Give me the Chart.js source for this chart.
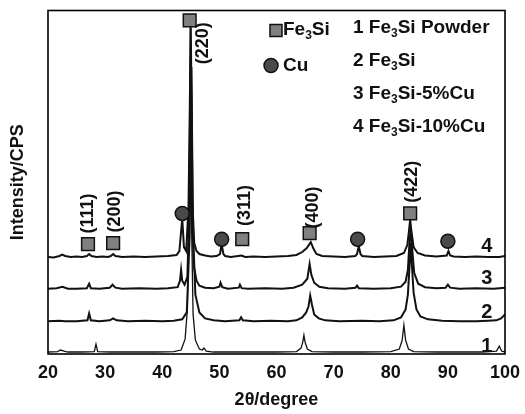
<!DOCTYPE html>
<html>
<head>
<meta charset="utf-8">
<script src="https://cdn.jsdelivr.net/npm/chart.js@4.4.1/dist/chart.umd.min.js"></script>
<style>
  html, body { margin: 0; padding: 0; background: #fff; }
  #wrap { width: 525px; height: 414px; }
</style>
</head>
<body>
<div id="wrap"><canvas id="xrdChart"></canvas></div>
<script>
// 2θ (degree) and stacked intensity for each pattern (offset already included)
const t1Angle = [20, 21.7, 22.2, 22.8, 23.5, 26, 28.1, 28.4, 28.7, 31, 35, 39, 42, 43.3, 44.0, 44.4, 44.7, 44.9, 45.1, 45.4, 45.8, 46.5, 47.0, 47.3, 47.7, 49, 55, 60, 63.5, 64.3, 64.6, 64.8, 65.0, 65.4, 66.2, 70, 75, 80, 81.5, 82.0, 82.3, 82.6, 83.1, 84, 88, 93, 96, 98.5, 99.0, 99.4, 100];
const t1Int   = [2, 2.5, 4, 3, 2, 2, 2.5, 10, 2.5, 2, 2, 2, 2.5, 4, 15, 45, 140, 332, 140, 40, 14, 5, 4, 6, 3, 2, 2, 2, 2.5, 6, 12, 19, 12, 5, 2.5, 2, 2, 2.5, 5, 14, 29, 14, 5, 2.5, 2, 2, 2, 3, 8, 3, 2];

const t2Angle = [20, 22, 23, 25, 26.9, 27.2, 27.5, 29, 30.8, 31.4, 32, 34, 37, 40, 42, 43.5, 44.3, 44.8, 45.1, 45.4, 45.8, 46.5, 47.5, 49, 51, 53.5, 53.8, 54.1, 56, 59, 62, 63.5, 64.5, 65.2, 65.6, 65.9, 66.2, 66.6, 67.4, 68.5, 71, 75, 78, 80.5, 81.8, 82.6, 83.0, 83.3, 83.5, 83.7, 84.0, 84.5, 85.2, 86.5, 89, 92, 95, 97, 98.5, 99.3, 100];
const t2Int   = [33, 33.5, 33, 33, 34, 41, 34, 33, 34, 36, 34, 33, 33.5, 33, 33.5, 35, 42, 120, 290, 120, 60, 42, 36, 34, 33, 34, 37, 34, 33, 33.5, 33, 34, 37, 42, 48, 59, 50, 40, 36, 34, 33, 33.5, 33, 34, 37, 45, 60, 90, 112, 90, 62, 45, 38, 35, 33.5, 33, 33, 33.5, 34, 36, 40];

const t3Angle = [20, 21.5, 22.5, 23.5, 25, 26.8, 27.2, 27.5, 29, 30.8, 31.3, 31.8, 33, 36, 39, 41, 42.7, 43.1, 43.3, 43.5, 43.9, 44.4, 44.8, 45.0, 45.2, 45.5, 46, 46.5, 47.5, 49, 50, 50.2, 50.5, 51.5, 53.4, 53.6, 53.9, 55, 58, 61, 63, 64.5, 65.4, 65.8, 66.1, 66.6, 67.5, 69, 72, 73.8, 74.1, 74.4, 77, 80, 81.8, 82.6, 83.0, 83.3, 83.5, 83.7, 84.1, 84.8, 86, 88, 89.6, 90.0, 90.4, 92, 95, 98, 100];
const t3Int   = [66, 66.5, 68, 66, 66, 66.5, 71, 66.5, 66, 67, 70, 67, 66, 66.5, 66, 66.5, 67.5, 74, 85, 74, 70, 78, 160, 300, 160, 90, 74, 69, 67, 66.5, 68, 72, 67.5, 66, 67, 70, 66.5, 66, 66.5, 66, 67, 70, 76, 91, 80, 72, 68, 66.5, 66, 67, 69, 66.5, 66, 66.5, 68, 73, 85, 115, 126, 110, 82, 71, 67.5, 66.5, 67, 70, 67, 66, 66.5, 66, 67];

const t4Angle = [20, 21, 22, 22.5, 23, 24, 25, 26, 26.8, 27.2, 27.6, 28.5, 29.5, 30.5, 31, 31.4, 31.8, 33, 35, 37, 39, 41, 42.5, 43, 43.5, 43.8, 44.2, 44.6, 45.0, 45.3, 45.6, 46, 46.5, 47.5, 48.5, 49.5, 50.1, 50.4, 50.7, 51, 52, 53.9, 54.5, 56, 58, 60, 62, 63.5, 64.5, 65.3, 66.0, 66.5, 67, 68, 70, 72, 73.8, 74.1, 74.4, 74.7, 75, 77, 79, 81, 82.3, 82.9, 83.2, 83.4, 83.6, 84, 84.7, 86, 88, 89.8, 90.1, 90.4, 91, 93, 95, 97, 99, 100];
const t4Int   = [98, 97.5, 99, 100.5, 99, 98, 98.5, 98, 99, 101, 99, 98, 98.5, 98, 99, 101, 99, 98, 98.5, 98, 98.5, 99, 100, 104, 137, 108, 104, 150, 330, 150, 112, 104, 101, 99.5, 98.5, 99, 101, 111, 101, 99, 98, 99.5, 98, 98.5, 98, 98.5, 99, 100, 103, 107, 113, 106, 101, 99, 98.5, 98, 99, 101, 109, 101, 99, 98, 98.5, 99, 102, 110, 125, 136, 125, 108, 102, 99.5, 98.5, 99.5, 104, 99.5, 98.5, 98, 98.5, 98, 98, 99];

// phase markers (2θ, height) and reflection labels
const fe3siAngle = [27.0, 31.4, 44.8, 54.0, 65.8, 83.4];
const fe3siY     = [111, 112, 337, 116, 122, 142];
const cuAngle    = [43.5, 50.4, 74.2, 90.0];
const cuY        = [142, 116, 116, 114];
const hklText    = ["(111)", "(200)", "(220)", "(311)", "(400)", "(422)"];
const hklAngle   = [26.8, 31.6, 47.0, 54.3, 66.3, 83.6];
const hklY       = [142, 144, 314, 150, 148, 174];

const traceNames = ["1 Fe|3|Si Powder", "2 Fe|3|Si", "3 Fe|3|Si-5%Cu", "4 Fe|3|Si-10%Cu"];
const traceTags  = ["1", "2", "3", "4"];
const tagAngle   = 96.8;
const tagY       = [8, 42, 76, 109];

const xTicks = [20, 30, 40, 50, 60, 70, 80, 90, 100];

const FONT = "'Liberation Sans', Arial, sans-serif";

function pairs(xs, ys) {
    return xs.map((x, i) => ({x: x, y: ys[i]}));
}

// draws "a|sub|b" text with a subscript part
function drawSubText(ctx, str, x, y, size) {
    const parts = str.split("|");
    let cx = x;
    parts.forEach((p, i) => {
        if (i % 2 === 1) {
            ctx.font = "bold " + Math.round(size * 0.62) + "px " + FONT;
            ctx.fillText(p, cx, y + size * 0.32);
        } else {
            ctx.font = "bold " + size + "px " + FONT;
            ctx.fillText(p, cx, y);
        }
        cx += ctx.measureText(p).width;
    });
}

const annotations = {
    id: "annotations",
    afterDatasetsDraw(chart) {
        const ctx = chart.ctx;
        const xs = chart.scales.x, ys = chart.scales.y;
        const area = chart.chartArea;
        ctx.save();
        ctx.fillStyle = "#111";
        ctx.textBaseline = "middle";

        // hkl labels, rotated
        ctx.font = "bold 18px " + FONT;
        ctx.textAlign = "center";
        hklText.forEach((t, i) => {
            ctx.save();
            ctx.translate(xs.getPixelForValue(hklAngle[i]), ys.getPixelForValue(hklY[i]));
            ctx.rotate(-Math.PI / 2);
            ctx.fillText(t, 0, 1);
            ctx.restore();
        });

        // trace numbers
        ctx.font = "bold 20px " + FONT;
        traceTags.forEach((t, i) => {
            ctx.fillText(t, xs.getPixelForValue(tagAngle), ys.getPixelForValue(tagY[i]));
        });

        // sample names
        ctx.textAlign = "left";
        traceNames.forEach((t, i) => {
            drawSubText(ctx, t, area.left + 305, area.top + 17 + i * 33, 19);
        });

        // phase legend
        ctx.fillStyle = "#808080";
        ctx.strokeStyle = "#111";
        ctx.lineWidth = 1.5;
        ctx.fillRect(area.left + 222, area.top + 14, 12, 12);
        ctx.strokeRect(area.left + 222, area.top + 14, 12, 12);
        ctx.beginPath();
        ctx.arc(area.left + 223, area.top + 55, 7, 0, Math.PI * 2);
        ctx.fillStyle = "#4a4a4a";
        ctx.fill();
        ctx.stroke();
        ctx.fillStyle = "#111";
        drawSubText(ctx, "Fe|3|Si", area.left + 235, area.top + 19, 19);
        ctx.font = "bold 19px " + FONT;
        ctx.fillText("Cu", area.left + 235, area.top + 55);

        // frame
        ctx.lineWidth = 1.6;
        ctx.strokeStyle = "#000";
        ctx.strokeRect(area.left, area.top, area.right - area.left, area.bottom - area.top);
        ctx.restore();
    }
};

const lineStyle = (w) => ({
    borderColor: "#111",
    borderWidth: w,
    pointRadius: 0,
    tension: 0,
    fill: false,
    order: 2
});

const ctx = document.getElementById("xrdChart").getContext("2d");
const chart = new Chart(ctx, {
    type: "line",
    data: {
        datasets: [
            Object.assign({label: "1", data: pairs(t1Angle, t1Int)}, lineStyle(1.3)),
            Object.assign({label: "2", data: pairs(t2Angle, t2Int)}, lineStyle(2)),
            Object.assign({label: "3", data: pairs(t3Angle, t3Int)}, lineStyle(2)),
            Object.assign({label: "4", data: pairs(t4Angle, t4Int)}, lineStyle(2)),
            {
                label: "Fe3Si",
                data: pairs(fe3siAngle, fe3siY),
                showLine: false,
                pointStyle: "rect",
                pointRadius: 9,
                backgroundColor: "#808080",
                borderColor: "#111",
                borderWidth: 1.5,
                order: 0
            },
            {
                label: "Cu",
                data: pairs(cuAngle, cuY),
                showLine: false,
                pointStyle: "circle",
                pointRadius: 7,
                backgroundColor: "#4a4a4a",
                borderColor: "#111",
                borderWidth: 1.5,
                order: 0
            }
        ]
    },
    options: {
        responsive: true,
        maintainAspectRatio: false,
        animation: false,
        layout: {padding: {top: 7, right: 20, left: 0, bottom: 0}},
        plugins: {
            legend: {display: false},
            tooltip: {enabled: false}
        },
        scales: {
            x: {
                type: "linear",
                min: 20,
                max: 100,
                afterBuildTicks: (s) => { s.ticks = xTicks.map(v => ({value: v})); },
                afterFit: (s) => { s.height = 60; s.paddingRight = 0; s.paddingLeft = 0; },
                grid: {display: false, drawTicks: false},
                border: {display: false},
                ticks: {
                    color: "#111",
                    padding: 8,
                    font: {family: FONT, size: 18, weight: "bold"}
                },
                title: {
                    display: true,
                    text: "2θ/degree",
                    color: "#111",
                    padding: {top: 0, bottom: 3},
                    font: {family: FONT, size: 18, weight: "bold"}
                }
            },
            y: {
                min: 0,
                max: 347,
                afterFit: (s) => { s.width = 48; },
                grid: {display: false, drawTicks: false},
                border: {display: false},
                ticks: {display: false},
                title: {
                    display: true,
                    text: "Intensity/CPS",
                    color: "#111",
                    padding: {top: 7, bottom: 0},
                    font: {family: FONT, size: 18, weight: "bold"}
                }
            }
        }
    },
    plugins: [annotations]
});
</script>
</body>
</html>
